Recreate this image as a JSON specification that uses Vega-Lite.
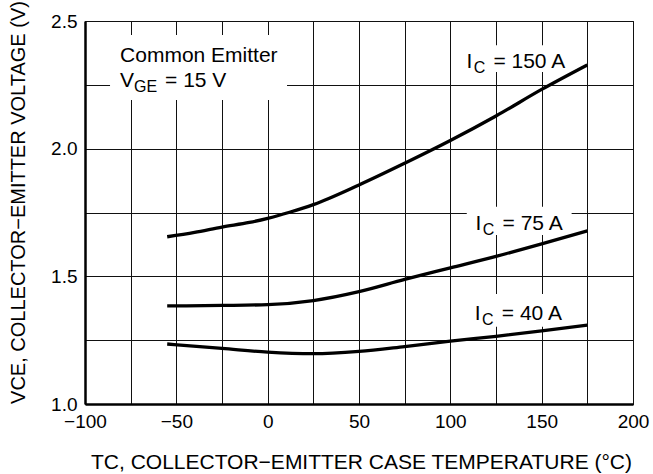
{
  "$schema": "https://vega.github.io/schema/vega-lite/v6.json",
  "width": 548,
  "height": 383,
  "autosize": {"type": "none"},
  "padding": {"left": 85, "top": 21, "right": 20, "bottom": 70},
  "background": "white",
  "config": {
    "font": "Liberation Sans",
    "view": {"stroke": "#000", "strokeWidth": 1},
    "axis": {
      "grid": true, "gridColor": "#111", "gridWidth": 1, "gridOpacity": 1,
      "ticks": false, "domainColor": "#000", "domainWidth": 2.5,
      "labelFont": "Liberation Sans", "labelFontSize": 19, "labelColor": "#000",
      "titleFont": "Liberation Sans", "titleFontSize": 20, "titleFontWeight": "normal", "titleColor": "#000",
      "labelOverlap": false
    }
  },
  "layer": [
    {
      "data": {"values": [
        {"x1": -86.3, "x2": 10.6, "y1": 2.191, "y2": 2.445},
        {"x1": 104, "x2": 171, "y1": 2.30, "y2": 2.405},
        {"x1": 109, "x2": 166.4, "y1": 1.662, "y2": 1.773},
        {"x1": 105, "x2": 170, "y1": 1.303, "y2": 1.431}
      ]},
      "mark": {"type": "rect", "fill": "white", "stroke": null},
      "encoding": {
        "x": {"field": "x1", "type": "quantitative",
          "scale": {"domain": [-100, 200], "nice": false},
          "axis": {"values": [-100,-75,-50,-25,0,25,50,75,100,125,150,175,200],
            "labelExpr": "datum.value % 50 === 0 ? datum.label : ''",
            "labelFlush": false, "labelPadding": 8,
            "title": "TC, COLLECTOR−EMITTER CASE TEMPERATURE (°C)",
            "titleFontSize": 21,
            "titleX": 276, "titleY": 64, "titleBaseline": "alphabetic", "titleAlign": "center"}},
        "x2": {"field": "x2"},
        "y": {"field": "y1", "type": "quantitative",
          "scale": {"domain": [1, 2.5], "nice": false},
          "axis": {"values": [1,1.25,1.5,1.75,2,2.25,2.5], "format": ".1f",
            "labelExpr": "datum.value % 0.5 === 0 ? datum.label : ''",
            "labelFlush": false, "labelPadding": 8,
            "title": "VCE, COLLECTOR−EMITTER VOLTAGE (V)",
            "titleX": -61, "titleY": 181, "titleBaseline": "alphabetic", "titleAlign": "center", "titleAngle": -90}},
        "y2": {"field": "y2"}
      }
    },
    {
      "data": {"values": [
        {"s": "150", "t": -55, "v": 1.655},
        {"s": "150", "t": -40, "v": 1.672},
        {"s": "150", "t": -25, "v": 1.693},
        {"s": "150", "t": -10, "v": 1.711},
        {"s": "150", "t": 0, "v": 1.727},
        {"s": "150", "t": 12, "v": 1.751},
        {"s": "150", "t": 25, "v": 1.781},
        {"s": "150", "t": 50, "v": 1.858},
        {"s": "150", "t": 75, "v": 1.943},
        {"s": "150", "t": 100, "v": 2.032},
        {"s": "150", "t": 125, "v": 2.128},
        {"s": "150", "t": 150, "v": 2.232},
        {"s": "150", "t": 175, "v": 2.328},
        {"s": "75", "t": -55, "v": 1.384},
        {"s": "75", "t": -25, "v": 1.386},
        {"s": "75", "t": 0, "v": 1.389},
        {"s": "75", "t": 25, "v": 1.405},
        {"s": "75", "t": 50, "v": 1.440},
        {"s": "75", "t": 75, "v": 1.488},
        {"s": "75", "t": 100, "v": 1.533},
        {"s": "75", "t": 125, "v": 1.578},
        {"s": "75", "t": 150, "v": 1.627},
        {"s": "75", "t": 175, "v": 1.678},
        {"s": "40", "t": -55, "v": 1.235},
        {"s": "40", "t": -25, "v": 1.218},
        {"s": "40", "t": 0, "v": 1.203},
        {"s": "40", "t": 25, "v": 1.197},
        {"s": "40", "t": 50, "v": 1.206},
        {"s": "40", "t": 75, "v": 1.225},
        {"s": "40", "t": 100, "v": 1.246},
        {"s": "40", "t": 125, "v": 1.265},
        {"s": "40", "t": 150, "v": 1.286},
        {"s": "40", "t": 175, "v": 1.309}
      ]},
      "mark": {"type": "line", "color": "#000", "strokeWidth": 3.3, "interpolate": "monotone", "strokeCap": "butt"},
      "encoding": {
        "x": {"field": "t", "type": "quantitative"},
        "y": {"field": "v", "type": "quantitative"},
        "detail": {"field": "s"}
      }
    },
    {
      "data": {"values": [
        {"x": 108.8, "y": 2.315, "label": "= 150 A"},
        {"x": 113.8, "y": 1.682, "label": "= 75 A"},
        {"x": 113.4, "y": 1.329, "label": "= 40 A"}
      ]},
      "layer": [
        {"mark": {"type": "text", "text": "I", "align": "left", "baseline": "alphabetic", "fontSize": 21, "color": "#000"},
         "encoding": {"x": {"field": "x", "type": "quantitative"}, "y": {"field": "y", "type": "quantitative"}}},
        {"mark": {"type": "text", "text": "C", "align": "left", "baseline": "alphabetic", "fontSize": 16, "dx": 7.3, "dy": 5, "color": "#000"},
         "encoding": {"x": {"field": "x", "type": "quantitative"}, "y": {"field": "y", "type": "quantitative"}}},
        {"mark": {"type": "text", "align": "left", "baseline": "alphabetic", "fontSize": 21, "dx": 27, "color": "#000"},
         "encoding": {"x": {"field": "x", "type": "quantitative"}, "y": {"field": "y", "type": "quantitative"}, "text": {"field": "label"}}}
      ]
    },
    {
      "data": {"values": [
        {"x": -80.8, "y": 2.341, "y2": 2.2405}
      ]},
      "layer": [
        {"mark": {"type": "text", "text": "Common Emitter", "align": "left", "baseline": "alphabetic", "fontSize": 21, "color": "#000"},
         "encoding": {"x": {"field": "x", "type": "quantitative"}, "y": {"field": "y", "type": "quantitative"}}},
        {"mark": {"type": "text", "text": "V", "align": "left", "baseline": "alphabetic", "fontSize": 21, "color": "#000"},
         "encoding": {"x": {"field": "x", "type": "quantitative"}, "y": {"field": "y2", "type": "quantitative"}}},
        {"mark": {"type": "text", "text": "GE", "align": "left", "baseline": "alphabetic", "fontSize": 16, "dx": 14, "dy": 5, "color": "#000"},
         "encoding": {"x": {"field": "x", "type": "quantitative"}, "y": {"field": "y2", "type": "quantitative"}}},
        {"mark": {"type": "text", "text": "= 15 V", "align": "left", "baseline": "alphabetic", "fontSize": 21, "dx": 45, "color": "#000"},
         "encoding": {"x": {"field": "x", "type": "quantitative"}, "y": {"field": "y2", "type": "quantitative"}}}
      ]
    }
  ]
}
